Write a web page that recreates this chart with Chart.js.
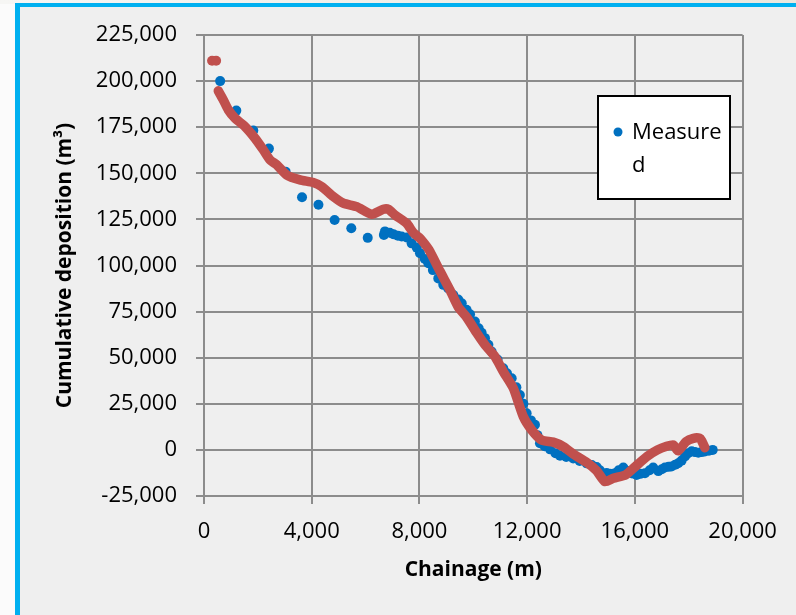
<!DOCTYPE html>
<html lang="en">
  <head>
    <meta charset="UTF-8">
    <title>Cumulative deposition</title>
    <style>
      html, body {
        margin: 0;
        padding: 0;
        width: 796px;
        height: 615px;
        overflow: hidden;
        background: #fbfbfb;
      }
      .topstrip {
        position: absolute;
        left: 0;
        top: 0;
        width: 796px;
        height: 4px;
        background: linear-gradient(to right, #f6f6f4, #ebe8de);
      }
      .frame {
        position: absolute;
        left: 15px;
        top: 3px;
        width: 800px;
        height: 640px;
        border-left: 5px solid #00b0f0;
        border-top: 4px solid #00b0f0;
        background: #efefef;
      }
      canvas {
        position: absolute;
        left: 0;
        top: 0;
      }
    </style>
  </head>
  <body>
    <div class="topstrip"></div>
    <div class="frame"></div>
    <canvas id="myChart" width="796" height="615"></canvas>

    <script src="https://cdn.jsdelivr.net/npm/chart.js"></script>
    <script>
      // measured cumulative deposition (blue dots)
      const measuredChainage = [600, 1200, 1830, 2410, 3030, 3640, 4250, 4850, 5470, 6080,
        6680, 6720, 6900, 7030, 7200, 7340, 7525, 7710, 7900, 8020,
        8200, 8330, 8500, 8700, 8885, 9070, 9260, 9440, 9570, 9750,
        9880, 10060, 10200, 10310, 10435, 10560, 10680, 10900, 11113, 11250,
        11425, 11600, 11730, 11860, 11980, 12140, 12290, 12380, 12475, 12650,
        12850, 13050, 13220, 13450, 13710, 13950, 14210, 14400, 14580, 14700,
        14950, 15075, 15260, 15400, 15570, 15750, 15900, 16065, 16200, 16375,
        16550, 16680, 16870, 17000, 17115, 17250, 17360, 17500, 17610, 17735,
        17860, 17980, 18110, 18230, 18355, 18480, 18600, 18750, 18890];
      const measuredDeposition = [200000, 184000, 173200, 163400, 150900, 137000, 132900, 124700, 120200, 115000,
        116600, 118500, 117800, 117000, 116200, 115700, 115200, 112000, 109700, 106700,
        103500, 101200, 97500, 93000, 89500, 87500, 84000, 81500, 79500, 76000,
        73500, 69600, 66000, 63500, 60600, 57000, 53300, 49000, 44300, 41500,
        38900, 34000, 29800, 25000, 19900, 16000, 13600, 8000, 3600, 2000,
        300, -1800, -3200, -3800, -4600, -6000, -7300, -8200, -9300, -11000,
        -12500, -13000, -12600, -11000, -9500, -11500, -12800, -13600, -13000, -12600,
        -11000, -9500, -11500, -10500, -9500, -9200, -9000, -8000, -7200, -5800,
        -3600, -1800, -700, -1200, -1500, -1200, -900, -400, 0];

      // modelled cumulative deposition (red band)
      const modelChainage = [530, 717, 903, 1150, 1522, 1894, 2203, 2450, 2700, 3070,
        3565, 4058, 4370, 4800, 5170, 5670, 6225, 6660, 6845, 7090,
        7525, 7770, 8020, 8270, 8390, 8760, 9130, 9440, 9750, 10125,
        10435, 10805, 11113, 11485, 11855, 12168, 12540, 12970, 13340, 13710,
        14210, 14580, 14890, 15200, 15650, 15950, 16450, 16840, 17180, 17425,
        17610, 17900, 18170, 18415, 18480, 18600];
      const modelDeposition = [194700, 189800, 184400, 179900, 175300, 169000, 162700, 157300, 154600, 149100,
        146400, 145000, 142800, 137400, 133800, 131900, 127800, 130500, 130500, 127400,
        122900, 117800, 114800, 110300, 107600, 97000, 86800, 77500, 72000, 63500,
        57000, 50600, 42500, 33500, 18100, 10800, 5300, 4200, 1800, -2200,
        -6800, -11300, -17200, -15400, -13600, -9900, -3600, 0, 2000, 2700,
        -500, 4500, 6300, 6300, 5000, 1200];
      const modelStartChainage = [300, 450];
      const modelStartDeposition = [211000, 211000];

      const xTicks = [0, 4000, 8000, 12000, 16000, 20000];
      const yMin = -25000, yMax = 225000, yStep = 25000;

      const BLUE = "#0070c0";
      const RED = "#c0504d";
      const GRID = "#8c8c8c";

      function toPoints(xs, ys) {
        return xs.map((x, i) => ({ x: x, y: ys[i] }));
      }
      function fmt(v) {
        return Number(v).toLocaleString("en-US");
      }

      // boxed legend like the Excel one, label wraps inside the box
      const boxLegend = {
        id: "boxLegend",
        afterDraw(chart) {
          const ctx = chart.ctx;
          const label = chart.data.datasets[2].label;
          ctx.save();
          ctx.fillStyle = "#ffffff";
          ctx.strokeStyle = "#000000";
          ctx.lineWidth = 2;
          ctx.fillRect(598, 96, 132, 103);
          ctx.strokeRect(598, 96, 132, 103);
          ctx.fillStyle = BLUE;
          ctx.beginPath();
          ctx.arc(618, 132, 4.5, 0, Math.PI * 2);
          ctx.fill();
          ctx.fillStyle = "#000000";
          ctx.font = "22px 'Open Sans'";
          ctx.textBaseline = "middle";
          ctx.textAlign = "left";
          ctx.fillText(label.slice(0, 7), 632, 133);
          ctx.fillText(label.slice(7), 632, 166);
          ctx.restore();
        }
      };

      const ctx = document.getElementById("myChart").getContext("2d");
      new Chart(ctx, {
        type: "scatter",
        data: {
          datasets: [
            {
              label: "Modelled",
              data: toPoints(modelChainage, modelDeposition),
              showLine: true,
              borderColor: RED,
              backgroundColor: RED,
              borderWidth: 9.5,
              borderCapStyle: "round",
              borderJoinStyle: "round",
              tension: 0.2,
              pointRadius: 0,
              order: 0,
            },
            {
              label: "Modelled start",
              data: toPoints(modelStartChainage, modelStartDeposition),
              backgroundColor: RED,
              borderWidth: 0,
              pointRadius: 5,
              order: 0,
            },
            {
              label: "Measured",
              data: toPoints(measuredChainage, measuredDeposition),
              backgroundColor: BLUE,
              borderWidth: 0,
              pointRadius: 5,
              order: 1,
            },
          ],
        },
        options: {
          responsive: false,
          animation: false,
          layout: {
            padding: { left: 20, top: 35, right: 53.4, bottom: 19 },
          },
          plugins: {
            legend: { display: false },
            tooltip: { enabled: false },
          },
          scales: {
            x: {
              type: "linear",
              min: 0,
              max: 20000,
              afterBuildTicks: (s) => { s.ticks = xTicks.map(v => ({ value: v })); },
              afterFit: (s) => { s.height = 100; },
              grid: { color: GRID, lineWidth: 2, tickLength: 8 },
              border: { color: GRID, width: 2 },
              ticks: {
                padding: 15,
                color: "#000",
                font: { family: "'Open Sans'", size: 22 },
                callback: (v) => fmt(v),
                maxRotation: 0,
              },
              title: {
                display: true,
                text: "Chainage (m)",
                color: "#000",
                font: { family: "'Open Sans'", size: 21, weight: "bold" },
                padding: { top: 0, bottom: 13 },
              },
            },
            y: {
              type: "linear",
              min: yMin,
              max: yMax,
              afterFit: (s) => { s.width = 184; },
              grid: { color: GRID, lineWidth: 2, tickLength: 8 },
              border: { color: GRID, width: 2 },
              ticks: {
                stepSize: yStep,
                padding: 19,
                color: "#000",
                font: { family: "'Open Sans'", size: 22 },
                callback: (v) => fmt(v),
              },
              title: {
                display: true,
                text: "Cumulative deposition (m³)",
                color: "#000",
                font: { family: "'Open Sans'", size: 21, weight: "bold" },
                padding: { top: 32, bottom: 0 },
              },
            },
          },
        },
        plugins: [boxLegend],
      });
    </script>
  </body>
</html>
